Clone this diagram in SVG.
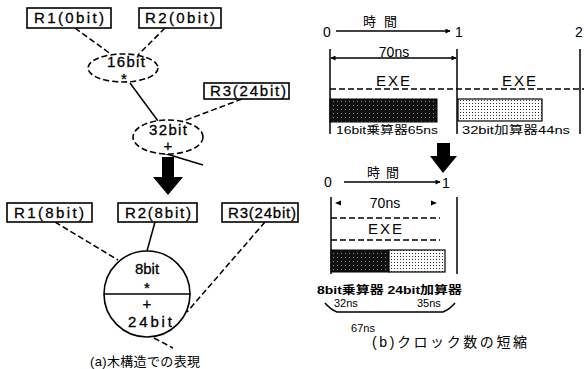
<svg xmlns="http://www.w3.org/2000/svg" width="584" height="369" viewBox="0 0 584 369">
<defs>
<style>
text{font-family:"Liberation Sans","Noto Sans CJK JP",sans-serif;fill:#000}
.box{fill:#fff;stroke:#000;stroke-width:1.6}
.node{fill:#fff;stroke:#000;stroke-width:1.6;stroke-dasharray:6 3}
.dash{fill:none;stroke:#000;stroke-width:1.5;stroke-dasharray:6 3}
.solid{fill:none;stroke:#000;stroke-width:1.5}
.lbl{font-size:15px;stroke:#000;stroke-width:0.3}
.mid{text-anchor:middle}
</style>
<pattern id="dark" width="4" height="4" patternUnits="userSpaceOnUse">
<rect width="4" height="4" fill="#111"/>
<rect x="1" y="1" width="1" height="1" fill="#888"/>
</pattern>
<pattern id="dots" width="3" height="3" patternUnits="userSpaceOnUse">
<rect width="3" height="3" fill="#fff"/>
<rect x="1" y="1" width="1" height="1" fill="#333"/>
</pattern>
<marker id="ah" viewBox="0 0 10 10" refX="9" refY="5" markerWidth="7" markerHeight="5" orient="auto-start-reverse" markerUnits="userSpaceOnUse">
<path d="M0,0L10,5L0,10z" fill="#000"/>
</marker>
</defs>
<rect width="584" height="369" fill="#fff"/>

<!-- connectors (a) -->
<g id="connectors">
<path class="dash" d="M75,28 L112,55"/>
<path class="dash" d="M165,28 L138,55"/>
<path class="solid" d="M130,83 L158,121"/>
<path class="dash" d="M242,99 L181,122"/>
<path class="solid" d="M160,152 L203,165"/>
<path class="dash" d="M55,222 L118,260"/>
<path class="solid" d="M155,222 L147,251"/>
<path class="dash" d="M265,222 L187,312"/>
<path class="dash" d="M154,338 L173,348"/>
</g>

<!-- top tree -->
<g id="r1a"><rect class="box" x="27" y="8" width="84" height="20"/><text class="lbl mid" x="69" y="23" textLength="70">R1(0bit)</text></g>
<g id="r2a"><rect class="box" x="139" y="8" width="82" height="20"/><text class="lbl mid" x="180" y="23" textLength="70">R2(0bit)</text></g>
<g id="mul16"><ellipse class="node" cx="123" cy="68" rx="35" ry="14"/><text class="lbl mid" x="126" y="67" textLength="38">16bit</text><text class="lbl mid" x="124" y="84">*</text></g>
<g id="r3a"><rect class="box" x="204" y="83" width="85" height="16"/><text class="lbl mid" x="248" y="96" textLength="76">R3(24bit)</text></g>
<g id="add32"><ellipse class="node" cx="168" cy="137" rx="35" ry="17"/><text class="lbl mid" x="168" y="135" textLength="38">32bit</text><text class="lbl mid" x="168" y="151">+</text></g>

<g id="arrowA"><path d="M162,157 L174,157 L174,177 L183,177 L168,195 L153,177 L162,177 Z" fill="#000"/></g>

<!-- bottom tree -->
<g id="r1b"><rect class="box" x="7" y="203" width="85" height="19"/><text class="lbl mid" x="49" y="218" textLength="70">R1(8bit)</text></g>
<g id="r2b"><rect class="box" x="118" y="203" width="79" height="19"/><text class="lbl mid" x="158" y="218" textLength="66">R2(8bit)</text></g>
<g id="r3b"><rect class="box" x="222" y="203" width="76" height="19"/><text class="lbl mid" x="262" y="218" textLength="68">R3(24bit)</text></g>
<g id="merged">
<circle class="box" cx="147" cy="294" r="43"/>
<line x1="104" y1="294" x2="190" y2="294" stroke="#000" stroke-width="1.6"/>
<text class="lbl mid" x="147" y="274">8bit</text>
<text class="lbl mid" x="147" y="293">*</text>
<text class="lbl mid" x="147" y="309">+</text>
<text class="lbl mid" x="150" y="327" textLength="44">24bit</text>
</g>
<text x="90" y="366" font-size="13" textLength="110">(a)木構造での表現</text>

<!-- (b) upper timing -->
<g id="timingTop">
<text x="323" y="37" font-size="14">0</text>
<line class="solid" x1="336" y1="31" x2="450" y2="31" marker-end="url(#ah)"/>
<text x="363" y="26" font-size="13" textLength="34">時間</text>
<text x="455" y="37" font-size="14">1</text>
<text x="575" y="37" font-size="14">2</text>
<line class="solid" x1="330" y1="49" x2="330" y2="134"/>
<line class="solid" x1="457" y1="49" x2="457" y2="134"/>
<line class="solid" x1="580" y1="49" x2="580" y2="134"/>
<line class="solid" x1="331" y1="58" x2="456" y2="58" marker-start="url(#ah)" marker-end="url(#ah)"/>
<text class="mid" x="394" y="57" font-size="14">70ns</text>
<text class="mid" x="394" y="86" font-size="15" letter-spacing="2">EXE</text>
<text class="mid" x="520" y="86" font-size="15" letter-spacing="2">EXE</text>
<line class="dash" x1="330" y1="89" x2="584" y2="89"/>
<rect x="330" y="99" width="107" height="23" fill="url(#dark)" stroke="#000" stroke-width="1"/>
<rect x="458" y="99" width="84" height="22" fill="url(#dots)" stroke="#000" stroke-width="1.2"/>
<text x="336" y="134" font-size="11" textLength="102" lengthAdjust="spacingAndGlyphs">16bit乗算器65ns</text>
<text x="462" y="134" font-size="11" textLength="108" lengthAdjust="spacingAndGlyphs">32bit加算器44ns</text>
</g>

<g id="arrowB"><path d="M437,143 L450,143 L450,156 L457,156 L443,173 L430,156 L437,156 Z" fill="#000"/></g>

<!-- (b) lower timing -->
<g id="timingBottom">
<text x="324" y="187" font-size="14">0</text>
<line class="solid" x1="344" y1="182" x2="440" y2="182" marker-end="url(#ah)"/>
<text x="367" y="177" font-size="13" textLength="32">時間</text>
<text x="442" y="188" font-size="14">1</text>
<line class="solid" x1="331" y1="197" x2="331" y2="274"/>
<line class="solid" x1="457" y1="197" x2="457" y2="274"/>
<path d="M335,203 L341,200.5 L341,205.5 Z M437,203 L431,200.5 L431,205.5 Z" fill="#000"/>
<text class="mid" x="385" y="208" font-size="14">70ns</text>
<line class="dash" x1="331" y1="218" x2="440" y2="218"/>
<text class="mid" x="386" y="234" font-size="15" letter-spacing="2">EXE</text>
<line class="dash" x1="331" y1="240" x2="440" y2="240"/>
<rect x="331" y="250" width="58" height="22" fill="url(#dark)" stroke="#000" stroke-width="1"/>
<rect x="389" y="250" width="56" height="22" fill="url(#dots)" stroke="#000" stroke-width="1.2"/>
<text x="317" y="294" font-size="11" font-weight="bold" textLength="145" lengthAdjust="spacingAndGlyphs">8bit乗算器 24bit加算器</text>
<text x="334" y="307" font-size="11">32ns</text>
<text x="417" y="307" font-size="11">35ns</text>
<path class="solid" d="M325,303 Q330,309 337,312 L443,312 Q450,309 455,303"/>
<text class="mid" x="363" y="332" font-size="11">67ns</text>
<text x="372" y="347" font-size="14" textLength="155">(b)クロック数の短縮</text>
</g>
</svg>
